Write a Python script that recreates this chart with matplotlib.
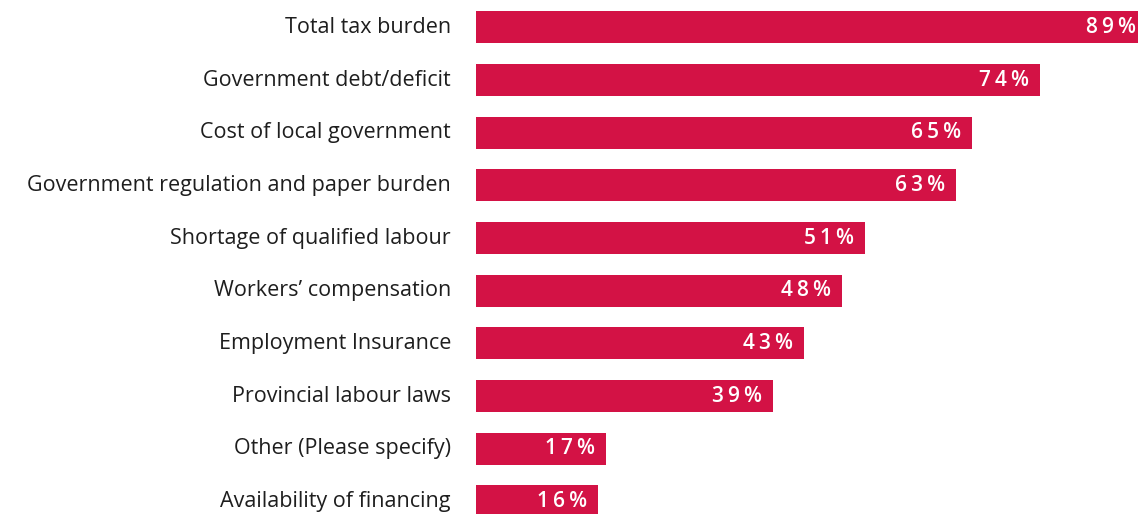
import matplotlib
matplotlib.use("Agg")
import matplotlib.pyplot as plt
from matplotlib.transforms import offset_copy

categories = [
    "Total tax burden",
    "Government debt/deficit",
    "Cost of local government",
    "Government regulation and paper burden",
    "Shortage of qualified labour",
    "Workers\u2019 compensation",
    "Employment Insurance",
    "Provincial labour laws",
    "Other (Please specify)",
    "Availability of financing",
]
values = [89, 74, 65, 63, 51, 48, 43, 39, 17, 16]

bar_color = "#D31245"

plt.rcParams["font.family"] = ["Open Sans", "DejaVu Sans"]

fig = plt.figure(figsize=(11.38, 5.14), dpi=100)
ax = fig.add_axes([476 / 1138, 0, 1 - 476 / 1138, 1])

y = list(range(len(categories)))
ax.barh(y, values, height=0.61, color=bar_color)

xmax = 86.8
ax.set_xlim(0, xmax)
ax.set_ylim(9.24, -0.52)
ax.axis("off")

thin = "\u2009"
for yi, v in zip(y, values):
    # keep the label inside the visible part of a bar that runs past the edge
    if v <= xmax:
        anchor, dx = v, -11
    else:
        anchor, dx = xmax, -2
    tr = offset_copy(ax.transData, fig=fig, x=dx, y=0, units="dots")
    ax.text(anchor, yi, thin.join(f"{v}%"), transform=tr, ha="right",
            va="center", color="white", fontsize=15, fontweight="semibold")

for yi, c in zip(y, categories):
    tr = offset_copy(ax.transData, fig=fig, x=-25, y=0, units="dots")
    ax.text(0, yi, c, transform=tr, ha="right", va="center",
            color="#1e1e1e", fontsize=15.5, clip_on=False)

fig.savefig("out.png", dpi=100)
